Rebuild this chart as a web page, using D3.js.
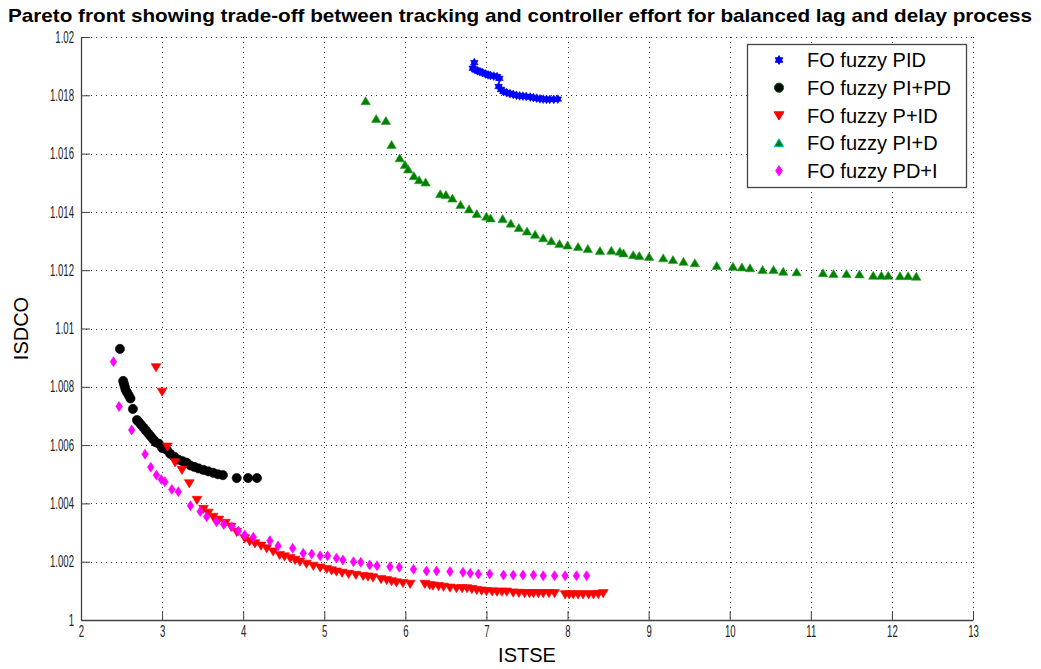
<!DOCTYPE html>
<html>
<head>
<meta charset="utf-8">
<title>Pareto front</title>
<script src="https://cdn.jsdelivr.net/npm/d3@7"></script>
<style>
  body { margin: 0; background: #fff; }
  svg { display: block; font-family: "Liberation Sans", Arial, sans-serif; }
</style>
</head>
<body>
<svg id="chart" width="1041" height="669"></svg>
<script>
// tick values and labels
const xTicks = [2, 3, 4, 5, 6, 7, 8, 9, 10, 11, 12, 13];
const yTicks = [1, 1.002, 1.004, 1.006, 1.008, 1.01, 1.012, 1.014, 1.016, 1.018, 1.02];
const yTickLabels = ["1", "1.002", "1.004", "1.006", "1.008", "1.01", "1.012", "1.014", "1.016", "1.018", "1.02"];

const seriesNames = ["FO fuzzy PID", "FO fuzzy PI+PD", "FO fuzzy P+ID", "FO fuzzy PI+D", "FO fuzzy PD+I"];

// [ISTSE, ISDCO]
const pid = [
  [6.85, 1.01912],
  [6.83, 1.01893], [6.86, 1.01888], [6.89, 1.01884], [6.92, 1.01881], [6.95, 1.01878], [6.99, 1.01873],
  [7.02, 1.01870], [7.05, 1.01868], [7.09, 1.01866], [7.13, 1.01864], [7.16, 1.01858],
  [7.15, 1.01830], [7.18, 1.01820], [7.21, 1.01813], [7.25, 1.01809], [7.29, 1.01806], [7.33, 1.01803],
  [7.37, 1.01800], [7.41, 1.01798], [7.45, 1.01797], [7.49, 1.01796], [7.54, 1.01794], [7.58, 1.01792],
  [7.62, 1.01790], [7.66, 1.01788], [7.70, 1.01787], [7.74, 1.01786], [7.78, 1.01786], [7.83, 1.01786], [7.88, 1.01787]
];

const piPd = [
  [2.48, 1.0093], [2.52, 1.0082], [2.53, 1.0081], [2.54, 1.0080], [2.55, 1.0079], [2.57, 1.0078],
  [2.59, 1.0077], [2.61, 1.0076], [2.64, 1.00724], [2.69, 1.00686], [2.71, 1.0068], [2.74, 1.0067],
  [2.77, 1.0066], [2.80, 1.0065], [2.83, 1.0064], [2.86, 1.0063], [2.89, 1.0062], [2.92, 1.0061],
  [2.96, 1.00605], [3.00, 1.0059], [3.06, 1.00583], [3.10, 1.0057], [3.15, 1.0056], [3.20, 1.0055],
  [3.25, 1.00545], [3.30, 1.0054], [3.35, 1.0053], [3.40, 1.00525], [3.45, 1.0052], [3.51, 1.00515],
  [3.57, 1.0051], [3.63, 1.00505], [3.69, 1.005], [3.75, 1.00497], [3.92, 1.00487], [4.06, 1.00487],
  [4.17, 1.00487]
];

const pId = [
  [2.925, 1.00867], [3.0, 1.00783], [3.065, 1.00595], [3.16, 1.00541], [3.245, 1.00515], [3.335, 1.00469],
  [3.43, 1.00412], [3.51, 1.00381], [3.57, 1.00368], [3.63, 1.00354], [3.70, 1.00344], [3.78, 1.00333],
  [3.85, 1.0032], [3.92, 1.00302], [4.02, 1.0028], [4.08, 1.0027], [4.145, 1.00263], [4.22, 1.00255],
  [4.29, 1.00246], [4.37, 1.00235], [4.45, 1.00223], [4.51, 1.00218], [4.58, 1.00212], [4.64, 1.00206],
  [4.70, 1.002], [4.78, 1.00193], [4.865, 1.00186], [4.95, 1.0018], [5.03, 1.00175], [5.09, 1.0017],
  [5.15, 1.00166], [5.22, 1.00162], [5.30, 1.00158], [5.39, 1.00155], [5.48, 1.00151], [5.54, 1.00149],
  [5.60, 1.00146], [5.70, 1.0014], [5.77, 1.00137], [5.83, 1.00133], [5.89, 1.00129], [5.97, 1.00127],
  [6.06, 1.00124], [6.24, 1.00124], [6.30, 1.0012], [6.34, 1.00118], [6.41, 1.00116], [6.47, 1.00114],
  [6.55, 1.00111], [6.63, 1.00109], [6.70, 1.00109], [6.76, 1.00109], [6.82, 1.00106], [6.88, 1.00103],
  [6.94, 1.00101], [7.0, 1.00099], [7.07, 1.00098], [7.13, 1.00097], [7.19, 1.00097], [7.25, 1.00097],
  [7.33, 1.00094], [7.40, 1.00093], [7.47, 1.00092], [7.53, 1.00092], [7.58, 1.00092], [7.64, 1.00092],
  [7.70, 1.00092], [7.77, 1.00092], [7.84, 1.00092], [7.97, 1.00088], [8.02, 1.00088], [8.07, 1.00088],
  [8.13, 1.00088], [8.19, 1.00088], [8.26, 1.00088], [8.32, 1.00088], [8.38, 1.00089], [8.44, 1.00092]
];

const piD = [
  [5.51, 1.0178], [5.64, 1.01719], [5.76, 1.01712], [5.83, 1.0163], [5.93, 1.01584], [5.995, 1.01561],
  [6.035, 1.01546], [6.105, 1.01523], [6.17, 1.01509], [6.25, 1.01501], [6.43, 1.01461], [6.50, 1.01458],
  [6.58, 1.01446], [6.68, 1.01424], [6.785, 1.01409], [6.88, 1.01393], [7.0, 1.01384], [7.05, 1.01378],
  [7.20, 1.01376], [7.30, 1.0136], [7.40, 1.01345], [7.50, 1.01333], [7.60, 1.01322], [7.70, 1.0131],
  [7.80, 1.013], [7.90, 1.0129], [8.0, 1.01285], [8.13, 1.0128], [8.25, 1.01273], [8.40, 1.01266],
  [8.54, 1.01267], [8.645, 1.01264], [8.69, 1.01258], [8.81, 1.01252], [8.885, 1.01249], [9.005, 1.01246],
  [9.18, 1.01241], [9.30, 1.01235], [9.43, 1.01229], [9.57, 1.01224], [9.84, 1.01215], [10.04, 1.01212],
  [10.15, 1.0121], [10.25, 1.01207], [10.405, 1.01201], [10.54, 1.01201], [10.66, 1.01195], [10.825, 1.01193],
  [11.15, 1.0119], [11.28, 1.01187], [11.44, 1.01187], [11.60, 1.01186], [11.77, 1.01181], [11.87, 1.01181],
  [11.955, 1.01181], [12.10, 1.0118], [12.20, 1.0118], [12.30, 1.01178]
];

const pdI = [
  [2.40, 1.00886], [2.47, 1.00732], [2.625, 1.00652], [2.79, 1.00569], [2.86, 1.00524], [2.93, 1.00497],
  [2.99, 1.00482], [3.035, 1.00474], [3.12, 1.00448], [3.20, 1.0044], [3.35, 1.00392], [3.47, 1.00372],
  [3.55, 1.00354], [3.67, 1.00337], [3.76, 1.00328], [3.86, 1.0032], [3.94, 1.00305], [4.02, 1.00292],
  [4.125, 1.00284], [4.33, 1.00272], [4.43, 1.00254], [4.61, 1.00246], [4.74, 1.00229], [4.845, 1.00226],
  [4.95, 1.0022], [5.04, 1.0022], [5.15, 1.00212], [5.23, 1.00206], [5.36, 1.002], [5.45, 1.00198],
  [5.56, 1.00189], [5.65, 1.00186], [5.81, 1.00183], [5.925, 1.00181], [6.10, 1.00174], [6.26, 1.00168],
  [6.385, 1.00168], [6.55, 1.00166], [6.71, 1.00164], [6.80, 1.0016], [6.90, 1.00158], [7.04, 1.00158],
  [7.21, 1.00154], [7.33, 1.00154], [7.45, 1.00154], [7.58, 1.00154], [7.70, 1.00152], [7.84, 1.00152],
  [7.97, 1.00152], [8.11, 1.00152], [8.235, 1.00152]
];

const width = 1041;
const height = 669;
const margin = { top: 37, right: 68, bottom: 49, left: 81 };

const xscale = d3.scaleLinear()
  .domain([2, 13])
  .range([margin.left, width - margin.right]);

const yscale = d3.scaleLinear()
  .domain([1, 1.02])
  .range([height - margin.bottom, margin.top]);

const svg = d3.select("#chart");

// marker shapes
function shapePath(shape) {
  switch (shape) {
    case "hexagram": {
      // both triangles wound the same way so the centre is filled
      const r = 4.4, a = r * Math.cos(Math.PI / 6);
      return `M0,${-r}L${a},${r / 2}L${-a},${r / 2}Z M0,${r}L${-a},${-r / 2}L${a},${-r / 2}Z`;
    }
    case "circle":
      return d3.symbol(d3.symbolCircle, Math.PI * 4.6 * 4.6)();
    case "down":
      return "M-4.9,-3.6L4.9,-3.6L0,4.6Z";
    case "up":
      return "M-4.7,3.6L4.7,3.6L0,-4.4Z";
    case "diamond":
      return "M0,-5L3.3,0L0,5L-3.3,0Z";
  }
}

const series = [
  { name: seriesNames[0], data: pid, shape: "hexagram", fill: "#0000ff", stroke: "#0000ff", legendStroke: "#0000ff" },
  { name: seriesNames[1], data: piPd, shape: "circle", fill: "#000000", stroke: "#000000", legendStroke: "#006400" },
  { name: seriesNames[2], data: pId, shape: "down", fill: "#ff0000", stroke: "#ff0000", legendStroke: "#ff0000" },
  { name: seriesNames[3], data: piD, shape: "up", fill: "#008000", stroke: "#2f9f2f", legendStroke: "#00c0c0" },
  { name: seriesNames[4], data: pdI, shape: "diamond", fill: "#ff00ff", stroke: "#ff00ff", legendStroke: "#ff00ff" }
];

// grid
const grid = svg.append("g")
  .attr("stroke", "#333")
  .attr("stroke-width", 1)
  .attr("stroke-dasharray", "1,4");

grid.selectAll(".gx")
  .data(xTicks.slice(1))
  .join("line")
  .attr("x1", d => Math.round(xscale(d)) + 0.5)
  .attr("x2", d => Math.round(xscale(d)) + 0.5)
  .attr("y1", yscale(1.02))
  .attr("y2", yscale(1));

grid.selectAll(".gy")
  .data(yTicks.slice(1))
  .join("line")
  .attr("x1", xscale(2))
  .attr("x2", xscale(13))
  .attr("y1", d => Math.round(yscale(d)) + 0.5)
  .attr("y2", d => Math.round(yscale(d)) + 0.5);

// axes, ticks pointing inward
const bottomAxis = d3.axisBottom(xscale)
  .tickValues(xTicks)
  .tickFormat(d3.format("d"))
  .tickSizeInner(-9)
  .tickSizeOuter(0);

const leftAxis = d3.axisLeft(yscale)
  .tickValues(yTicks)
  .tickFormat((d, i) => yTickLabels[i])
  .tickSizeInner(-9)
  .tickSizeOuter(0);

const gx = svg.append("g")
  .attr("transform", `translate(0, ${yscale(1)})`)
  .call(bottomAxis);

const gy = svg.append("g")
  .attr("transform", `translate(${xscale(2)}, 0)`)
  .call(leftAxis);

[gx, gy].forEach(g => {
  g.select(".domain").attr("stroke", "#404040").attr("stroke-width", 1.3);
  g.selectAll(".tick line").attr("stroke", "#404040");
  g.selectAll(".tick text")
    .attr("fill", "#222")
    .style("font-size", "16px")
    .style("font-family", "'Liberation Sans', Arial, sans-serif");
});

// MATLAB tick labels look condensed
gx.selectAll(".tick text").attr("dy", "0.71em").attr("y", 6);
gy.selectAll(".tick text").attr("x", -7);
svg.selectAll(".tick text").each(function () {
  const len = this.getComputedTextLength();
  d3.select(this).attr("textLength", len * 0.6).attr("lengthAdjust", "spacingAndGlyphs");
});

// points
series.forEach(s => {
  svg.append("g")
    .selectAll("path")
    .data(s.data)
    .join("path")
    .attr("d", shapePath(s.shape))
    .attr("transform", d => `translate(${xscale(d[0])}, ${yscale(d[1])})`)
    .attr("fill", s.fill)
    .attr("stroke", s.stroke)
    .attr("stroke-width", 0.6);
});

// title and axis labels
svg.append("text")
  .attr("x", 520)
  .attr("y", 22)
  .attr("text-anchor", "middle")
  .attr("font-weight", "bold")
  .attr("font-size", 19)
  .attr("textLength", 1024)
  .attr("lengthAdjust", "spacingAndGlyphs")
  .text("Pareto front showing trade-off between tracking and controller effort for balanced lag and delay process");

svg.append("text")
  .attr("x", (xscale(2) + xscale(13)) / 2)
  .attr("y", 662)
  .attr("text-anchor", "middle")
  .attr("font-size", 20)
  .text("ISTSE");

svg.append("text")
  .attr("transform", `translate(28, ${(yscale(1) + yscale(1.02)) / 2}) rotate(-90)`)
  .attr("text-anchor", "middle")
  .attr("font-size", 20)
  .text("ISDCO");

// legend
const legend = svg.append("g");
legend.append("rect")
  .attr("x", 747.5)
  .attr("y", 44.5)
  .attr("width", 219)
  .attr("height", 143)
  .attr("fill", "#fff")
  .attr("stroke", "#444")
  .attr("stroke-width", 1.3);

const rows = legend.selectAll(".row")
  .data(series)
  .join("g")
  .attr("transform", (d, i) => `translate(779, ${60 + i * 27.7})`);

rows.append("path")
  .attr("d", d => shapePath(d.shape))
  .attr("fill", d => d.fill)
  .attr("stroke", d => d.legendStroke)
  .attr("stroke-width", 1);

rows.append("text")
  .attr("x", 28)
  .attr("dy", "0.36em")
  .attr("font-size", 20)
  .attr("fill", "#000")
  .text(d => d.name);
</script>
</body>
</html>
